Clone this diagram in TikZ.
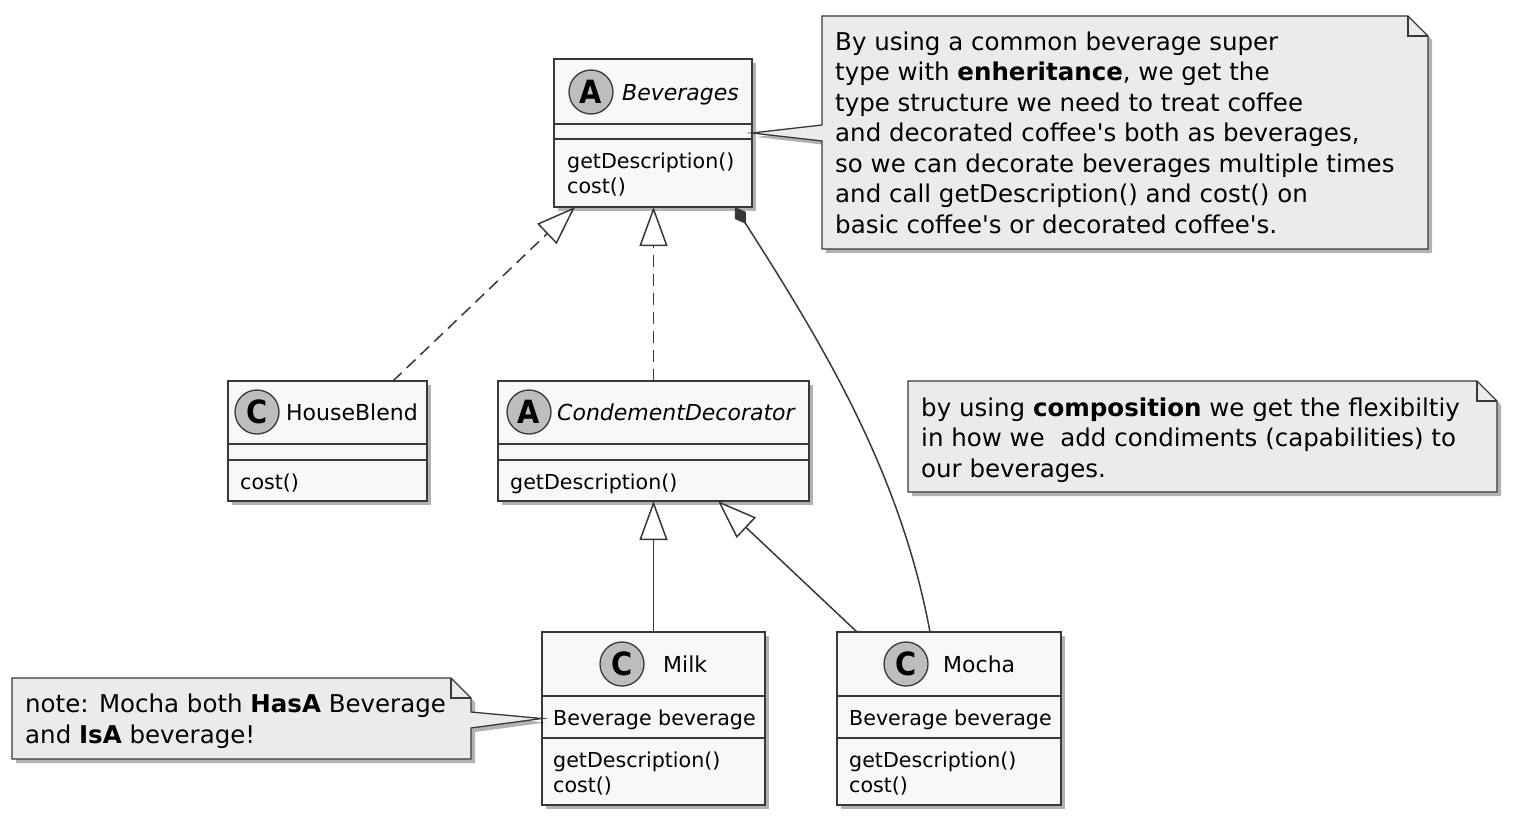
\documentclass[tikz,border=0pt]{standalone}
\usepackage{fontspec}
\setmainfont{DejaVu Sans}
\newfontfamily\circfont{DejaVu Sans Condensed}
\usetikzlibrary{arrows.meta,shadows,calc}
\definecolor{bd}{HTML}{383838}
\definecolor{clsfill}{HTML}{F8F8F8}
\definecolor{notefill}{HTML}{EBEBEB}
\definecolor{circfill}{HTML}{BDBDBD}
\newcommand\sq{\textquotesingle}
\tikzset{
  shad/.style={drop shadow={shadow xshift=4pt,shadow yshift=-4pt,opacity=0.3,fill=black}},
  classbox/.style={rectangle,draw=bd,line width=2.8pt,fill=clsfill,shad,inner sep=0pt,outer sep=0pt},
  sepline/.style={draw=bd,line width=2.8pt},
  circ/.style={circle,draw=bd,line width=1.3pt,fill=circfill,minimum size=44pt,inner sep=0pt,font=\circfont\bfseries\fontsize{32}{32}\selectfont},
  hdr/.style={anchor=base west,inner sep=0pt,font=\fontsize{22}{22}\selectfont},
  mem/.style={anchor=base west,inner sep=0pt,font=\fontsize{20.6}{25}\selectfont},
  notebox/.style={draw=bd,line width=1.3pt,fill=notefill,shad},
  foldline/.style={draw=bd,line width=1.3pt},
  notetext/.style={anchor=base west,inner sep=0pt,align=left,font=\fontsize{24.5}{30.5}\selectfont},
  conn/.style={draw=bd,line width=1.5pt},
  dashedconn/.style={conn,dash pattern=on 12pt off 7pt},
  ext/.style={-{Triangle[open,length=39pt,width=28pt,fill=white]}},
  comp/.style={{Diamond[length=20pt,width=13pt]}-},
}
\begin{document}
\begin{tikzpicture}[x=1pt,y=-1pt]
\useasboundingbox (0,0) rectangle (1519,825);

% ---------- classes ----------
\node[classbox,minimum width=198pt,minimum height=148pt] (bev) at (653,133) {};
\draw[sepline] (bev.west |- 0,124) -- (bev.east |- 0,124);
\draw[sepline] (bev.west |- 0,139) -- (bev.east |- 0,139);
\node[circ] (bevc) at (591,92) {A};
\node[hdr] (bevn) at (622,100) {\itshape Beverages};
\node[mem] (bevm1) at (567,168) {getDescription()};
\node[mem] (bevm2) at (567,193) {cost()};

\node[classbox,minimum width=199pt,minimum height=120pt] (hb) at (327.5,441) {};
\draw[sepline] (hb.west |- 0,444) -- (hb.east |- 0,444);
\draw[sepline] (hb.west |- 0,460) -- (hb.east |- 0,460);
\node[circ] (hbc) at (257,412) {C};
\node[hdr] (hbn) at (286,420) {HouseBlend};
\node[mem] (hbm1) at (240,489) {cost()};

\node[classbox,minimum width=311pt,minimum height=120pt] (cd) at (653.5,441) {};
\draw[sepline] (cd.west |- 0,444) -- (cd.east |- 0,444);
\draw[sepline] (cd.west |- 0,460) -- (cd.east |- 0,460);
\node[circ] (cdc) at (529,412) {A};
\node[hdr] (cdn) at (557,420) {\itshape CondementDecorator};
\node[mem] (cdm1) at (510,489) {getDescription()};

\node[classbox,minimum width=223pt,minimum height=173pt] (milk) at (653.5,718.5) {};
\draw[sepline] (milk.west |- 0,696) -- (milk.east |- 0,696);
\draw[sepline] (milk.west |- 0,738) -- (milk.east |- 0,738);
\node[circ] (milkc) at (622,664) {C};
\node[hdr] (milkn) at (663,672) {Milk};
\node[mem] (milka) at (553,725) {Beverage beverage};
\node[mem] (milkm1) at (553,767) {getDescription()};
\node[mem] (milkm2) at (553,792) {cost()};

\node[classbox,minimum width=224pt,minimum height=173pt] (mocha) at (949,718.5) {};
\draw[sepline] (mocha.west |- 0,696) -- (mocha.east |- 0,696);
\draw[sepline] (mocha.west |- 0,738) -- (mocha.east |- 0,738);
\node[circ] (mochac) at (906,664) {C};
\node[hdr] (mochan) at (943,672) {Mocha};
\node[mem] (mochaa) at (849,725) {Beverage beverage};
\node[mem] (mocham1) at (849,767) {getDescription()};
\node[mem] (mocham2) at (849,792) {cost()};

% ---------- connectors ----------
\draw[dashedconn,ext] ([xshift=65.5pt]hb.north) -- ([xshift=-78pt]bev.south);
\draw[dashedconn,ext] (cd.north) -- (cd.north |- bev.south);
\draw[conn,ext] (milk.north) -- (cd.south);
\draw[conn,ext] ([xshift=-92pt]mocha.north) -- ([xshift=64.5pt]cd.south);
\draw[conn,comp] ([xshift=82pt]bev.south) .. controls (820,340) and (900,470) .. ([xshift=-19pt]mocha.north);

% ---------- notes ----------
\path[notebox] (822,16) -- (1408,16) -- (1428,36) -- (1428,249) -- (822,249) -- (822,141) -- (bev.east) -- (822,125) -- cycle;
\draw[foldline] (1408,16) -- (1408,36) -- (1428,36);
\node[notetext] (n1) at (835,233) {By using a common beverage super\\
type with \textbf{enheritance}, we get the\\
type structure we need to treat coffee\\
and decorated coffee\sq s both as beverages,\\
so we can decorate beverages multiple times\\
and call getDescription() and cost() on\\
basic coffee\sq s or decorated coffee\sq s.};

\path[notebox] (908,381) -- (1477,381) -- (1497,401) -- (1497,492) -- (908,492) -- cycle;
\draw[foldline] (1477,381) -- (1477,401) -- (1497,401);
\node[notetext] (n2) at (921,477) {by using \textbf{composition} we get the flexibiltiy\\
in how we\ \ add condiments (capabilities) to\\
our beverages.};

\path[notebox] (12,678) -- (451,678) -- (471,698) -- (471,712) -- (milk.west) -- (471,728) -- (471,759) -- (12,759) -- cycle;
\draw[foldline] (451,678) -- (451,698) -- (471,698);
\node[notetext] (n3) at (25,743) {note: Mocha both \textbf{HasA} Beverage\\
and \textbf{IsA} beverage!};
\end{tikzpicture}
\end{document}
